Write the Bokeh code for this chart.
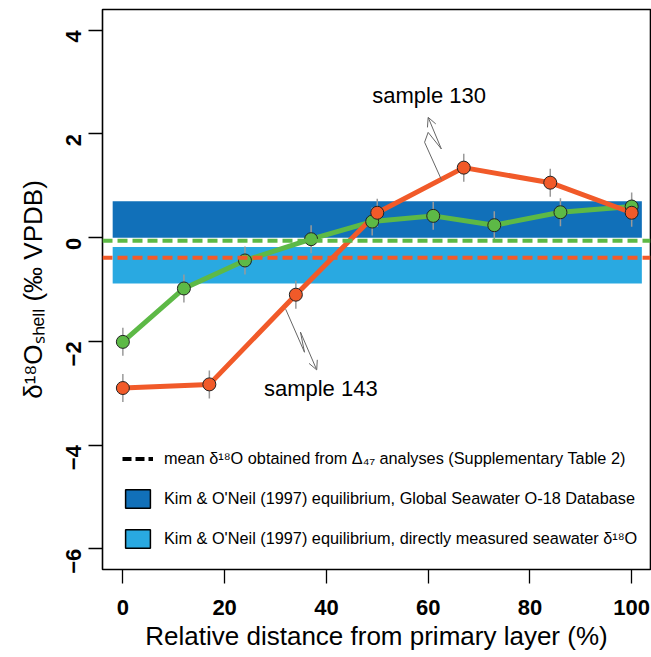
import math
from bokeh.plotting import figure
from bokeh.models import (Label, Span, Legend, LegendItem, FixedTicker, Arrow,
                          OpenHead, ColumnDataSource, Range1d)
from bokeh.embed import file_html
from bokeh.resources import INLINE

# ---------------- data ----------------
green_x = [0, 12, 24, 37, 49, 61, 73, 86, 100]
green_y = [-2.01, -0.98, -0.44, -0.03, 0.31, 0.42, 0.24, 0.49, 0.60]
green_err = [0.27, 0.27, 0.27, 0.27, 0.27, 0.27, 0.27, 0.27, 0.27]

orange_x = [0, 17, 34, 50, 67, 84, 100]
orange_y = [-2.90, -2.83, -1.10, 0.48, 1.35, 1.06, 0.48]
orange_err = [0.27, 0.27, 0.27, 0.27, 0.27, 0.27, 0.27]

green_mean = -0.06
orange_mean = -0.39

band_x = [-2, 102]
band_global = [0.0, 0.70]        # Global Seawater O-18 Database
band_measured = [-0.885, -0.18]  # directly measured seawater

x_ticks = [0, 20, 40, 60, 80, 100]
y_ticks = [-6, -4, -2, 0, 2, 4]
y_tick_labels = ["\u22126", "\u22124", "\u22122", "0", "2", "4"]

x_title = "Relative distance from primary layer (%)"
y_title = "\u03b4\u00b9\u2078O\u209b\u2095\u2091\u2097\u2097 (\u2030 VPDB)"
legend_labels = [
    "mean \u03b4\u00b9\u2078O obtained from \u0394\u2084\u2087 analyses (Supplementary Table 2)",
    "Kim & O'Neil (1997) equilibrium, Global Seawater O-18 Database",
    "Kim & O'Neil (1997) equilibrium, directly measured seawater \u03b4\u00b9\u2078O",
]

ann130_x = [62.6, 59.3, 60.0, 62.6, 60.0]
ann130_y = [1.12, 1.84, 2.03, 1.71, 2.32]
ann143_x = [32.0, 35.7, 34.9, 38.1]
ann143_y = [-1.38, -2.21, -1.82, -2.55]
label130 = ("sample 130", 60.2, 2.74)
label143 = ("sample 143", 38.9, -2.91)

# ---------------- styles ----------------
GREEN = "#5DB946"
ORANGE = "#F15A29"
DARK = "#1170B9"
LIGHT = "#29A9E1"
FONT = "Liberation Sans"
NAN = float("nan")

p = figure(width=651, height=657, x_range=Range1d(-4, 103.7), y_range=Range1d(-6.4, 4.4),
           output_backend="svg", toolbar_location=None,
           min_border_left=102, min_border_right=1, min_border_top=9, min_border_bottom=88)
p.xgrid.visible = False
p.ygrid.visible = False
p.outline_line_color = "black"
p.outline_line_width = 1.6
p.background_fill_color = "white"

for ax in (p.xaxis[0], p.yaxis[0]):
    ax.axis_line_color = None
    ax.major_tick_out = 14
    ax.major_tick_in = 0
    ax.minor_tick_line_color = None
    ax.major_tick_line_width = 1.3
    ax.major_tick_line_color = "black"
    ax.major_label_text_font = FONT
    ax.major_label_text_font_style = "bold"
    ax.major_label_text_font_size = "22px"
    ax.major_label_text_color = "black"
    ax.axis_label_text_font = FONT
    ax.axis_label_text_font_style = "normal"
    ax.axis_label_text_font_size = "26px"
    ax.axis_label_text_color = "black"

p.xaxis.ticker = FixedTicker(ticks=x_ticks)
p.xaxis.major_label_standoff = 16
p.xaxis.axis_label = x_title
p.xaxis.axis_label_standoff = 3
p.yaxis.ticker = FixedTicker(ticks=y_ticks)
p.yaxis.major_label_overrides = {t: s for t, s in zip(y_ticks, y_tick_labels)}
p.yaxis.major_label_orientation = math.pi / 2
p.yaxis.major_label_standoff = 15
p.yaxis.axis_label = y_title
p.yaxis.axis_label_standoff = 8

# bands
p.quad(left=[band_x[0]], right=[band_x[1]], bottom=[band_global[0]], top=[band_global[1]],
       fill_color=DARK, line_color=None)
p.quad(left=[band_x[0]], right=[band_x[1]], bottom=[band_measured[0]], top=[band_measured[1]],
       fill_color=LIGHT, line_color=None)

# mean dashed lines
p.add_layout(Span(location=green_mean, dimension="width", line_color=GREEN,
                  line_width=4, line_dash="10 5"))
p.add_layout(Span(location=orange_mean, dimension="width", line_color=ORANGE,
                  line_width=4, line_dash="10 5"))

# series
gsrc = ColumnDataSource(dict(x=green_x, y=green_y,
                             lo=[y - e for y, e in zip(green_y, green_err)],
                             hi=[y + e for y, e in zip(green_y, green_err)]))
osrc = ColumnDataSource(dict(x=orange_x, y=orange_y,
                             lo=[y - e for y, e in zip(orange_y, orange_err)],
                             hi=[y + e for y, e in zip(orange_y, orange_err)]))

p.line("x", "y", source=gsrc, line_color=GREEN, line_width=5)
p.line("x", "y", source=osrc, line_color=ORANGE, line_width=5)
p.segment(x0="x", y0="lo", x1="x", y1="hi", source=gsrc, line_color="#9a9a9a", line_width=1.5)
p.segment(x0="x", y0="lo", x1="x", y1="hi", source=osrc, line_color="#9a9a9a", line_width=1.5)
p.scatter("x", "y", source=gsrc, size=13, fill_color=GREEN, line_color="#222222", line_width=1)
p.scatter("x", "y", source=osrc, size=13, fill_color=ORANGE, line_color="#222222", line_width=1)

# annotations (squiggly arrows)
ARROW_C = "#666666"
for ax_, ay_ in ((ann130_x, ann130_y), (ann143_x, ann143_y)):
    p.line(ax_[:-1], ay_[:-1], line_color=ARROW_C, line_width=1)
    p.add_layout(Arrow(end=OpenHead(size=9, line_color=ARROW_C, line_width=1),
                       x_start=ax_[-2], y_start=ay_[-2], x_end=ax_[-1], y_end=ay_[-1],
                       line_color=ARROW_C, line_width=1))
for txt, lx, ly in (label130, label143):
    p.add_layout(Label(x=lx, y=ly, text=txt, text_align="center", text_baseline="middle",
                       text_font=FONT, text_font_size="22px", text_color="black"))

# legend (key-only renderers with no visible data)
r_leg_line = p.line([NAN, NAN], [NAN, NAN], line_color="black", line_width=4, line_dash="9 4")
r_leg_dark = p.quad(left=[NAN], right=[NAN], top=[NAN], bottom=[NAN], fill_color=DARK,
                    line_color="black", line_width=1.5)
r_leg_light = p.quad(left=[NAN], right=[NAN], top=[NAN], bottom=[NAN], fill_color=LIGHT,
                     line_color="black", line_width=1.5)
legend = Legend(items=[LegendItem(label=legend_labels[0], renderers=[r_leg_line]),
                       LegendItem(label=legend_labels[1], renderers=[r_leg_dark]),
                       LegendItem(label=legend_labels[2], renderers=[r_leg_light])],
                location=(20, 19.5), glyph_width=31, glyph_height=23, label_height=23,
                spacing=17, label_standoff=11, padding=0, margin=0,
                border_line_color=None, background_fill_alpha=0,
                label_text_font=FONT, label_text_font_size="16.3px", label_text_color="black")
p.add_layout(legend)

open("out.html", "w").write(file_html(p, INLINE))
